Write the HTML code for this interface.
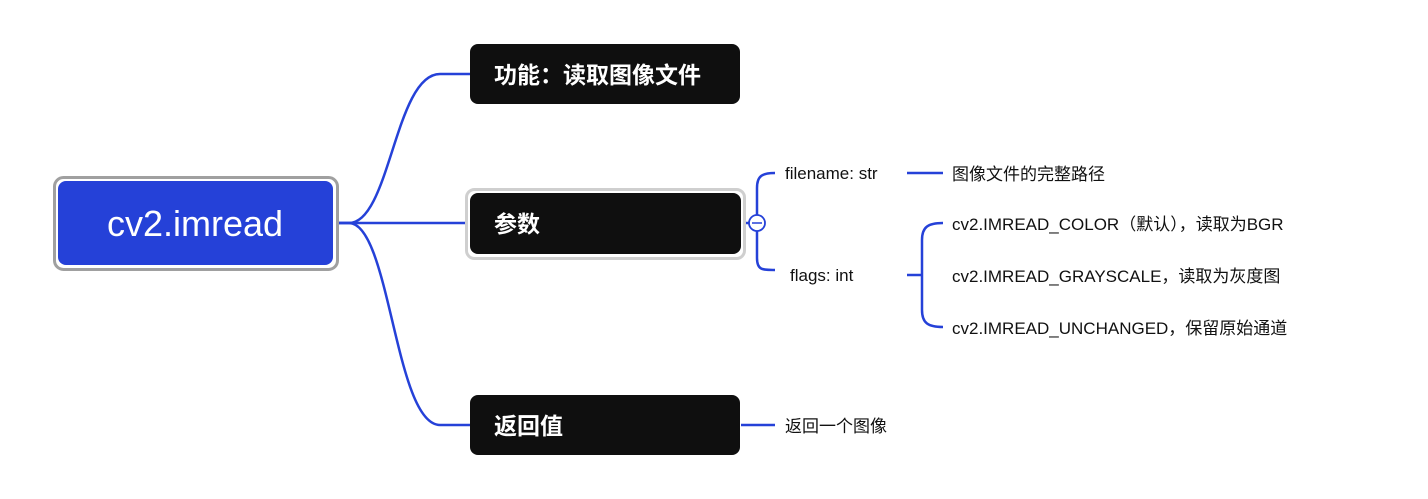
<!DOCTYPE html>
<html><head><meta charset="utf-8"><style>
html,body{margin:0;padding:0;background:#fff;}
svg{display:block;}
text{font-family:"Liberation Sans","Noto Sans CJK SC",sans-serif;}
</style></head><body>
<svg width="1428" height="499" viewBox="0 0 1428 499" xmlns="http://www.w3.org/2000/svg">
<g fill="none" stroke="#2541d8" stroke-width="2.5">
<path d="M337,223 L349,223 C390,223 395,74 440,74 L470,74"/>
<path d="M337,223 L470,223"/>
<path d="M337,223 L349,223 C390,223 395,425 440,425 L470,425"/>
<path d="M741,223 L749,223"/>
<path d="M775,173 C762,173 757,176 757,188 L757,258 C757,270 762,270 775,270"/>
<path d="M907,173 L943,173"/>
<path d="M907,275 L922,275"/>
<path d="M943,223 C928,223 922,227 922,240 L922,310 C922,323 928,327 943,327"/>
<path d="M741,425 L775,425"/>
</g>
<circle cx="757" cy="223" r="8" fill="#fff" stroke="#2541d8" stroke-width="1.8"/>
<line x1="752" y1="223" x2="762" y2="223" stroke="#2541d8" stroke-width="1.5"/>

<rect x="54.5" y="177.5" width="283" height="92" rx="9" fill="#fff" stroke="#a0a0a0" stroke-width="3"/>
<rect x="58" y="181" width="275" height="84" rx="8" fill="#2541d8"/>
<text x="195" y="236" font-size="36" fill="#fff" text-anchor="middle">cv2.imread</text>

<rect x="470" y="44" width="270" height="60" rx="8" fill="#0f0f0f"/>
<text x="494" y="83" font-size="23" font-weight="bold" fill="#fff">功能：读取图像文件</text>

<rect x="466.5" y="189.5" width="278" height="69" rx="8" fill="#fff" stroke="#cfcfcf" stroke-width="3"/>
<rect x="470" y="193" width="271" height="61" rx="8" fill="#0f0f0f"/>
<text x="494" y="232" font-size="23" font-weight="bold" fill="#fff">参数</text>

<rect x="470" y="395" width="270" height="60" rx="8" fill="#0f0f0f"/>
<text x="494" y="434" font-size="23" font-weight="bold" fill="#fff">返回值</text>

<g font-size="17" fill="#111">
<text x="785" y="179">filename: str</text>
<text x="790" y="281">flags: int</text>
<text x="952" y="180">图像文件的完整路径</text>
<text x="952" y="230">cv2.IMREAD_COLOR（默认），读取为BGR</text>
<text x="952" y="282">cv2.IMREAD_GRAYSCALE，读取为灰度图</text>
<text x="952" y="334">cv2.IMREAD_UNCHANGED，保留原始通道</text>
<text x="785" y="432">返回一个图像</text>
</g>
</svg>
</body></html>
